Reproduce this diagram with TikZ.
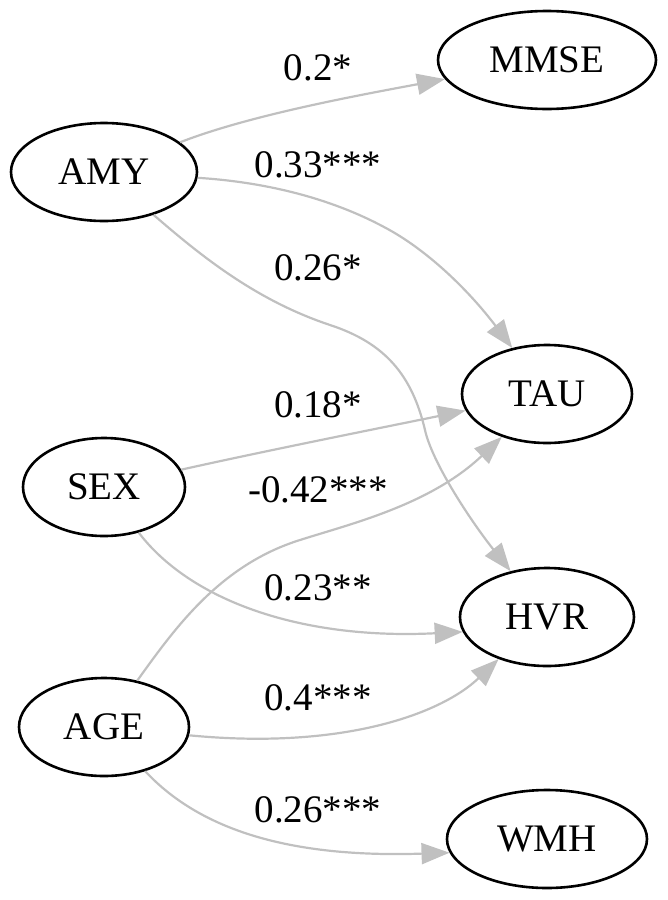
\documentclass[tikz,border=0pt]{standalone}
\usepackage{fontspec}
\setmainfont{Liberation Serif}
\usetikzlibrary{shapes.geometric,arrows.meta}
\definecolor{edgegray}{HTML}{C0C0C0}
\tikzset{
  var/.style={ellipse, draw=black, line width=2.6pt, minimum height=98pt,
    inner sep=0pt, font=\fontsize{39}{47}\selectfont},
  lbl/.style={anchor=base, inner sep=0pt, font=\fontsize{39}{47}\selectfont},
  conn/.style={draw=edgegray, line width=2.2pt,
    -{Triangle[length=28pt,width=21pt]}}
}
\begin{document}
\begin{tikzpicture}[x=1pt,y=-1pt]
\useasboundingbox (0,0) rectangle (667,900);
% nodes
\node[var, minimum width=218pt] (mmse) at (547,60)  {MMSE};
\node[var, minimum width=186pt] (amy)  at (104,172) {AMY};
\node[var, minimum width=170pt] (tau)  at (547,394) {TAU};
\node[var, minimum width=162pt] (sex)  at (104,487) {SEX};
\node[var, minimum width=174pt] (hvr)  at (547,617) {HVR};
\node[var, minimum width=170pt] (age)  at (104,727) {AGE};
\node[var, minimum width=200pt] (wmh)  at (547,839) {WMH};
% helper points
\coordinate (p1) at (384,227);
\coordinate (p2) at (330,325);
\coordinate (p3) at (425,430);
\coordinate (p4) at (300,540);
% edges
\draw[conn] (amy) .. controls (250,115) and (360,95) .. (mmse);
\draw[conn] (amy) .. controls (265,182) and (330,198) .. (p1)
                  .. controls (428,250) and (470,292) .. (tau);
\draw[conn] (amy) .. controls (200,255) and (255,300) .. (p2)
                  .. controls (385,343) and (412,375) .. (p3)
                  .. controls (432,462) and (470,520) .. (hvr);
\draw[conn] (sex) .. controls (260,452) and (380,428) .. (tau);
\draw[conn] (age) .. controls (175,628) and (220,565) .. (p4)
                  .. controls (350,524) and (430,505) .. (tau);
\draw[conn] (sex) .. controls (190,600) and (300,640) .. (hvr.190);
\draw[conn] (age) .. controls (340,750) and (440,715) .. (hvr.221);
\draw[conn] (age) .. controls (200,830) and (290,858) .. (wmh.188);
% labels
\node[lbl] (l1) at (318,80)  {0.2*};
\node[lbl] (l2) at (318,177) {0.33***};
\node[lbl] (l3) at (318,280) {0.26*};
\node[lbl] (l4) at (318,417) {0.18*};
\node[lbl] (l5) at (318,502) {-0.42***};
\node[lbl] (l6) at (318,600) {0.23**};
\node[lbl] (l7) at (318,710) {0.4***};
\node[lbl] (l8) at (318,822) {0.26***};
\end{tikzpicture}
\end{document}
